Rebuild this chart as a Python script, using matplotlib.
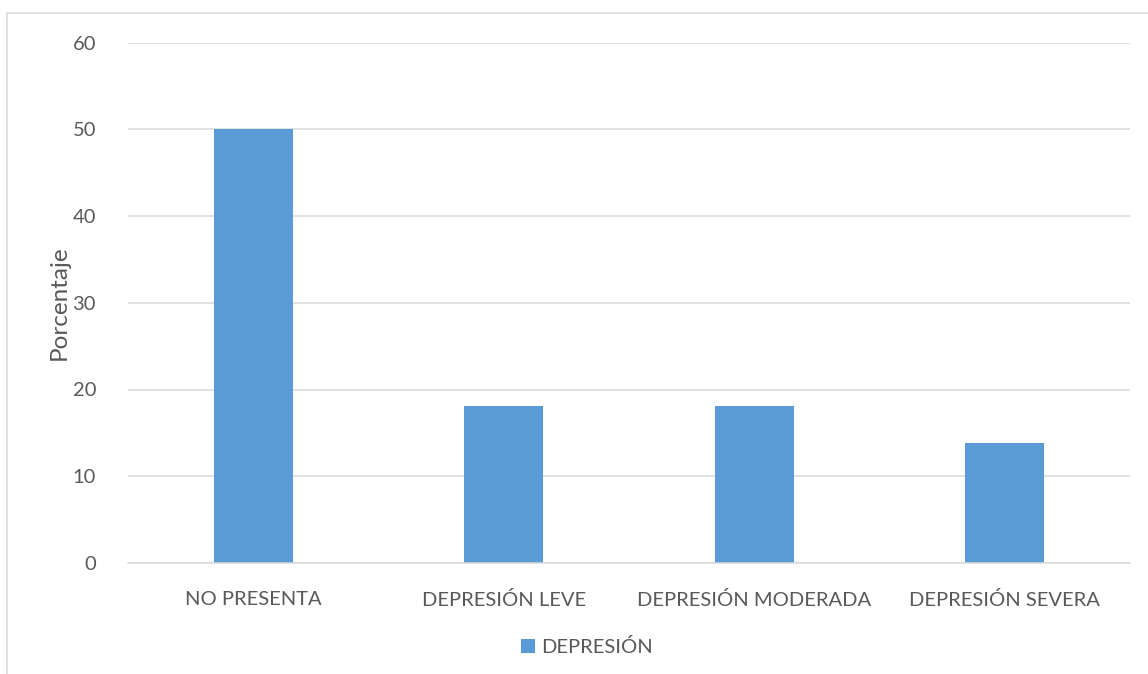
import matplotlib
matplotlib.use("Agg")
import matplotlib.pyplot as plt
from matplotlib.patches import Rectangle

categories = ["NO PRESENTA", "DEPRESIÓN LEVE", "DEPRESIÓN MODERADA", "DEPRESIÓN SEVERA"]
values = [50, 18.1, 18.1, 13.8]
series_name = "DEPRESIÓN"
yticks = [0, 10, 20, 30, 40, 50, 60]

plt.rcParams['font.family'] = ['Lato', 'DejaVu Sans']
txt = '#595959'
grid = '#d9d9d9'

fig = plt.figure(figsize=(11.48, 6.74), dpi=100)
ax = fig.add_axes([128/1148, 1-563/674, (1130-128)/1148, (563-42.5)/674])

x = list(range(len(categories)))
ax.bar(x, values, width=0.315, color='#5B9BD5', label=series_name, zorder=3)
ax.set_xlim(-0.5, len(categories) - 0.5)
ax.set_ylim(0, 60)
ax.set_yticks(yticks)
ax.set_yticklabels([str(t) for t in yticks])
ax.set_xticks(x)
ax.set_xticklabels(categories)
ax.yaxis.grid(True, color=grid, lw=1.1, zorder=0)
for s in ['top', 'right', 'left']:
    ax.spines[s].set_visible(False)
ax.spines['bottom'].set_color(grid)
ax.spines['bottom'].set_linewidth(1.1)
ax.spines['bottom'].set_zorder(4)
ax.tick_params(axis='both', length=0, labelsize=14.5, colors=txt)
ax.tick_params(axis='y', pad=23)
ax.tick_params(axis='x', pad=20)
ax.set_ylabel("Porcentaje", fontsize=17.5, color=txt)
ax.yaxis.set_label_coords(-(128-70)/1002, 0.5)

handles, labels = ax.get_legend_handles_labels()
fig.legend(handles, labels, loc='center', bbox_to_anchor=(587/1148, 1-647/674),
           frameon=False, fontsize=14.5, labelcolor=txt, handlelength=0.7,
           handleheight=0.7, handletextpad=0.3)

fig.patches.append(Rectangle((7/1148, -0.1), 1.2, (674-13)/674 + 0.1,
                             transform=fig.transFigure, fill=False,
                             edgecolor=grid, lw=1.1))

fig.savefig("out.png", dpi=100, facecolor='white')
